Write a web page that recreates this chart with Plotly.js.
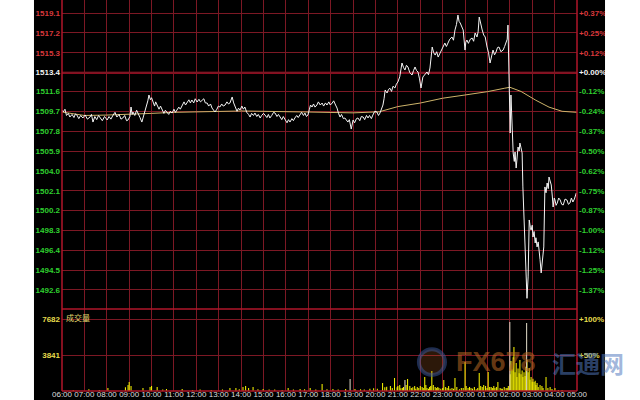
<!DOCTYPE html>
<html>
<head>
<meta charset="utf-8">
<script src="https://cdn.plot.ly/plotly-3.0.1.min.js"></script>
<style>html,body{margin:0;padding:0;background:#fff;}#chart{width:640px;height:400px;}</style>
</head>
<body>
<div id="chart"></div>
<script>
// ---------- data ----------
const prevClose = 1513.4;

const priceTicks = [1519.1, 1517.2, 1515.3, 1513.4, 1511.6, 1509.7, 1507.8, 1505.9, 1504.0, 1502.1, 1500.2, 1498.3, 1496.4, 1494.5, 1492.6];
const pctLabels = ['+0.37%', '+0.25%', '+0.12%', '+0.00%', '-0.12%', '-0.24%', '-0.37%', '-0.50%', '-0.62%', '-0.75%', '-0.87%', '-1.00%', '-1.12%', '-1.25%', '-1.37%'];

const volTicks = [3841, 7682];
const volTickLabels = ['3841', '7682'];
const volPctLabels = ['+50%', '+100%'];

// minute price (time, price)
const priceSeries = [
['06:00',1509.82],['06:03',1509.63],['06:08',1509.9],['06:12',1509.3],['06:17',1509.5],['06:21',1509.15],['06:27',1509.4],['06:32',1509.1],['06:36',1509.45],['06:40',1509.34],['06:45',1509.0],['06:50',1509.3],['06:56',1509.06],['07:02',1509.35],['07:08',1508.95],['07:15',1509.15],['07:19',1509.4],['07:23',1508.67],['07:28',1509.2],['07:33',1508.9],['07:38',1509.3],['07:42',1509.06],['07:48',1508.8],['07:54',1509.2],['08:01',1508.87],['08:06',1509.2],['08:11',1508.95],['08:17',1509.34],['08:22',1509.6],['08:27',1509.15],['08:33',1509.4],['08:38',1508.95],['08:43',1509.06],['08:48',1509.3],['08:53',1508.8],['08:57',1508.87],['09:02',1509.2],['09:05',1510.11],['09:08',1509.4],['09:10',1509.63],['09:15',1509.3],['09:20',1509.8],['09:24',1509.53],['09:29',1509.1],['09:34',1508.67],['09:38',1509.2],['09:42',1509.53],['09:47',1510.2],['09:50',1510.7],['09:53',1511.26],['09:57',1510.8],['10:00',1511.0],['10:04',1510.59],['10:08',1510.2],['10:11',1510.6],['10:15',1510.30],['10:20',1509.9],['10:24',1510.2],['10:28',1509.82],['10:33',1509.5],['10:37',1509.8],['10:41',1509.63],['10:46',1509.4],['10:50',1509.7],['10:55',1509.53],['11:00',1509.9],['11:04',1509.6],['11:08',1509.82],['11:13',1510.1],['11:17',1509.9],['11:22',1510.30],['11:27',1510.6],['11:31',1510.3],['11:35',1510.49],['11:40',1510.8],['11:44',1510.5],['11:48',1510.78],['11:53',1510.5],['11:57',1510.9],['12:02',1510.59],['12:07',1510.85],['12:11',1510.6],['12:15',1510.78],['12:20',1510.9],['12:24',1510.5],['12:29',1510.49],['12:33',1510.2],['12:38',1510.4],['12:42',1510.01],['12:46',1509.8],['12:50',1509.63],['12:55',1509.9],['12:59',1510.2],['13:03',1510.11],['13:08',1510.4],['13:12',1510.2],['13:17',1510.30],['13:22',1510.6],['13:26',1510.4],['13:30',1510.49],['13:36',1511.07],['13:40',1510.5],['13:44',1510.11],['13:49',1509.7],['13:53',1510.0],['13:57',1509.82],['14:02',1510.2],['14:06',1509.9],['14:10',1510.11],['14:15',1509.6],['14:20',1509.4],['14:24',1509.15],['14:28',1509.5],['14:33',1509.3],['14:37',1509.53],['14:42',1509.2],['14:46',1509.4],['14:51',1509.06],['14:55',1509.3],['15:00',1509.5],['15:04',1509.34],['15:09',1509.1],['15:13',1509.4],['15:17',1509.06],['15:22',1509.3],['15:27',1509.6],['15:31',1509.53],['15:36',1509.2],['15:40',1509.4],['15:44',1509.15],['15:49',1508.9],['15:53',1509.2],['15:58',1508.87],['16:03',1508.6],['16:07',1508.9],['16:11',1508.67],['16:16',1509.0],['16:20',1508.8],['16:24',1509.06],['16:29',1509.3],['16:33',1509.1],['16:38',1509.34],['16:42',1509.6],['16:47',1509.3],['16:51',1509.53],['16:55',1509.2],['16:59',1509.34],['17:03',1509.9],['17:06',1510.3],['17:10',1510.11],['17:14',1510.4],['17:18',1510.1],['17:23',1510.30],['17:27',1510.6],['17:32',1510.3],['17:37',1510.49],['17:41',1510.2],['17:46',1510.5],['17:50',1510.30],['17:55',1510.6],['17:59',1510.3],['18:04',1510.49],['18:08',1510.7],['18:13',1510.3],['18:17',1510.01],['18:21',1509.5],['18:25',1509.15],['18:29',1509.4],['18:34',1509.0],['18:38',1509.06],['18:42',1508.8],['18:46',1508.67],['18:50',1508.9],['18:55',1508.00],['19:00',1508.87],['19:04',1508.6],['19:09',1509.0],['19:13',1509.06],['19:18',1508.8],['19:22',1509.2],['19:27',1509.15],['19:31',1508.9],['19:36',1509.3],['19:40',1509.06],['19:44',1509.3],['19:49',1509.0],['19:53',1509.34],['19:58',1509.7],['20:04',1509.63],['20:08',1509.3],['20:12',1509.53],['20:16',1509.9],['20:20',1510.30],['20:23',1510.9],['20:26',1511.74],['20:31',1511.45],['20:35',1511.8],['20:39',1511.90],['20:43',1511.6],['20:47',1512.1],['20:52',1511.93],['20:56',1512.3],['21:00',1512.50],['21:05',1513.0],['21:08',1513.6],['21:11',1514.32],['21:15',1513.9],['21:19',1513.65],['21:23',1514.1],['21:27',1513.94],['21:32',1513.4],['21:38',1513.17],['21:42',1513.6],['21:46',1513.94],['21:50',1513.6],['21:54',1513.46],['21:58',1512.8],['22:02',1511.93],['22:07',1512.98],['22:12',1513.2],['22:18',1513.46],['22:22',1513.2],['22:26',1513.84],['22:32',1515.85],['22:36',1515.3],['22:40',1515.08],['22:44',1515.4],['22:48',1514.89],['22:53',1515.3],['22:58',1515.56],['23:02',1515.9],['23:06',1516.23],['23:10',1515.9],['23:14',1516.23],['23:19',1516.6],['23:25',1516.81],['23:29',1516.5],['23:33',1517.48],['23:37',1518.0],['23:41',1518.91],['23:44',1518.3],['23:47',1518.15],['23:51',1517.8],['23:55',1517.48],['00:00',1515.56],['00:02',1516.3],['00:05',1516.52],['00:09',1516.2],['00:14',1516.6],['00:19',1516.71],['00:23',1516.4],['00:27',1517.19],['00:32',1516.81],['00:35',1517.3],['00:38',1518.72],['00:42',1517.9],['00:46',1517.48],['00:50',1517.0],['00:54',1516.81],['00:59',1515.85],['01:03',1515.3],['01:07',1514.32],['01:11',1515.1],['01:15',1515.56],['01:19',1515.1],['01:23',1515.37],['01:27',1515.8],['01:31',1515.85],['01:36',1515.4],['01:42',1515.56],['01:46',1515.9],['01:50',1516.33],['01:53',1516.6],['01:55',1517.95],['02:01',1507.62],['02:03',1511.26],['02:06',1507.80],['02:09',1505.71],['02:12',1504.9],['02:14',1505.8],['02:17',1504.27],['02:20',1505.6],['02:22',1506.28],['02:25',1505.9],['02:27',1506.66],['02:30',1506.2],['02:33',1505.71],['02:35',1502.46],['02:38',1499.59],['02:44',1494.23],['02:46',1491.80],['02:49',1493.85],['02:52',1499.30],['02:55',1498.6],['02:57',1498.34],['03:00',1498.8],['03:02',1497.67],['03:05',1498.2],['03:08',1497.10],['03:10',1497.6],['03:13',1496.72],['03:16',1497.2],['03:18',1496.14],['03:21',1495.5],['03:24',1494.23],['03:27',1495.4],['03:29',1496.14],['03:31',1496.72],['03:34',1502.46],['03:37',1501.9],['03:40',1502.84],['03:43',1502.3],['03:45',1503.41],['03:48',1503.0],['03:51',1502.65],['03:54',1501.5],['03:56',1500.54],['03:59',1501.4],['04:01',1501.21],['04:04',1500.7],['04:07',1500.92],['04:11',1501.4],['04:15',1501.21],['04:19',1500.8],['04:23',1500.73],['04:28',1501.3],['04:33',1501.21],['04:37',1500.8],['04:41',1500.92],['04:45',1501.4],['04:49',1501.02],['04:53',1501.3],['04:58',1501.88]
];

const avgTimes = ['06:00','07:00','08:00','09:00','10:00','11:00','12:00','14:00','17:00','19:00','20:10','21:00','22:00','23:00','00:00','01:00','01:45','02:00','02:30','03:10','03:45','04:20','05:00'];
const avgPrices = [1509.63,1509.30,1509.34,1509.40,1509.50,1509.60,1509.63,1509.73,1509.63,1509.55,1509.65,1510.15,1510.49,1510.95,1511.26,1511.58,1511.90,1512.00,1511.60,1510.75,1510.10,1509.70,1509.60];

const volTimes = ['06:30','07:12','07:40','08:03','08:50','08:57','09:00','09:05','09:37','09:56','10:00','10:15','10:30','10:40','11:22','11:50','12:10','12:40','13:10','13:30','13:46','13:55','14:05','14:12','14:20','14:32','14:45','14:59','15:15','15:30','15:50','16:06','16:20','16:38','16:50','17:05','17:20','17:37','17:50','18:06','18:20','18:40','19:05','19:20','19:30','19:45','19:55','20:05','20:19','20:25','20:30','20:40','20:45','20:51','20:58','21:00','21:05','21:08','21:12','21:15','21:22','21:26','21:32','21:36','21:40','21:45','21:48','21:52','21:56','22:00','22:05','22:08','22:12','22:15','22:18','22:22','22:25','22:28','22:31','22:35','22:40','22:44','22:47','22:50','22:55','23:00','23:03','23:08','23:12','23:16','23:20','23:25','23:29','23:33','23:38','23:45','23:50','23:55','00:00','00:03','00:08','00:12','00:16','00:20','00:25','00:30','00:34','00:38','00:42','00:46','00:50','00:55','00:59','01:02','01:06','01:10','01:14','01:17','01:20','01:24','01:28','01:34','01:37','01:40','01:45','01:50','01:53','01:56','02:01','02:03','02:06','02:09','02:11','02:14','02:17','02:19','02:22','02:25','02:27','02:30','02:33','02:35','02:38','02:41','02:43','02:46','02:49','02:52','02:54','02:57','03:00','03:02','03:05','03:08','03:10','03:13','03:16','03:21','03:26','03:29','03:37','03:42','03:48','03:53','04:01','04:10','04:20'];
const volumes = [100,200,100,320,400,640,960,530,320,430,530,430,150,210,210,100,150,100,150,320,320,200,430,530,320,430,200,210,150,150,100,320,150,210,200,320,150,750,200,210,150,210,210,200,150,250,300,250,850,400,450,530,320,1390,400,530,640,300,320,430,640,1280,530,320,400,530,250,430,320,530,430,320,1490,640,320,250,430,530,2130,640,430,320,430,320,250,320,1170,430,320,530,250,320,250,1390,430,200,320,320,3090,530,320,430,320,250,430,200,320,1920,530,430,640,530,320,2030,430,430,320,530,320,430,960,320,250,250,430,320,320,530,1800,3200,2300,3600,4690,2000,3000,1500,2400,1900,3300,1800,2200,1500,2000,1600,2600,3300,2000,2450,1200,1500,1000,1300,960,1100,640,850,430,640,530,320,1490,320,430,210,320,110,110];

// light-coloured (grey/white) volume bars
const volGreyTimes = ['18:52','21:19','02:00','02:45'];
const volGrey = [1280,1170,7360,7260];

const volumeLabel = '成交量';

// ---------- helpers ----------
const D1 = '2019-08-01 ', D2 = '2019-08-02 ';
const toDate = t => (parseInt(t.slice(0,2),10) >= 6 ? D1 : D2) + t;

const RED = '#d8383c', GREEN = '#2fcf2f', WHITE = '#f2f2f2', YEL = '#e6dc4c';
const GRID = '#7c1824', BORDER = '#b0162a';

const leftText = priceTicks.map(v => {
  const c = v > prevClose + 0.01 ? RED : (v < prevClose - 0.01 ? GREEN : WHITE);
  return `<span style="color:${c}">${v.toFixed(1)}</span>`;
});
const rightText = pctLabels.map((s, i) => {
  const v = priceTicks[i];
  const c = v > prevClose + 0.01 ? RED : (v < prevClose - 0.01 ? GREEN : WHITE);
  return `<span style="color:${c}">${s}</span>`;
});

const pRange = [1490.78, 1520.35];
const vRange = [0, 8749];
const xRange = [D1 + '06:00', D2 + '05:00'];
const SPLIT = 0.2097;

const traces = [
  { x: avgTimes.map(toDate), y: avgPrices, xaxis: 'x2', yaxis: 'y', type: 'scatter', mode: 'lines',
    line: { color: '#cdb46a', width: 1 }, hoverinfo: 'skip' },
  { x: priceSeries.map(p => toDate(p[0])), y: priceSeries.map(p => p[1]), xaxis: 'x2', yaxis: 'y', type: 'scatter', mode: 'lines',
    line: { color: '#f4f4f4', width: 1 }, hoverinfo: 'skip' },
  { x: [], y: [], xaxis: 'x2', yaxis: 'y3', type: 'scatter', mode: 'lines', hoverinfo: 'skip' },
  { x: volTimes.map(toDate), y: volumes, xaxis: 'x', yaxis: 'y2', type: 'bar', width: 170000,
    marker: { color: '#f4f000', line: { width: 0 } }, hoverinfo: 'skip' },
  { x: volGreyTimes.map(toDate), y: volGrey, xaxis: 'x', yaxis: 'y2', type: 'bar', width: 170000,
    marker: { color: '#d8d2c0', line: { width: 0 } }, hoverinfo: 'skip' },
  { x: [], y: [], xaxis: 'x', yaxis: 'y4', type: 'scatter', mode: 'lines', hoverinfo: 'skip' }
];

const tickFont = { family: 'Liberation Sans, Arial, sans-serif', size: 8, weight: 700 };

const layout = {
  width: 640, height: 400,
  paper_bgcolor: '#000', plot_bgcolor: '#000',
  margin: { l: 62, r: 63, t: 0, b: 9, pad: 0 },
  showlegend: false,
  barmode: 'overlay',
  xaxis: { type: 'date', range: xRange, anchor: 'y2', domain: [0, 1],
    showgrid: true, gridcolor: GRID, gridwidth: 1, dtick: 3600000, tick0: D1 + '06:00',
    tickformat: '%H:%M', ticks: '', zeroline: false, showline: false, tickangle: 0,
    tickfont: { family: 'Liberation Sans, Arial, sans-serif', size: 8, color: '#dcdcdc' }, ticklabelstandoff: -3 },
  xaxis2: { type: 'date', range: xRange, matches: 'x', anchor: 'y', domain: [0, 1],
    showgrid: true, gridcolor: GRID, gridwidth: 1, dtick: 3600000, tick0: D1 + '06:00',
    showticklabels: false, ticks: '', zeroline: false, showline: false },
  yaxis: { domain: [SPLIT, 1], range: pRange, anchor: 'x2', tickmode: 'array',
    tickvals: priceTicks, ticktext: leftText, showgrid: true, gridcolor: GRID, gridwidth: 1,
    zeroline: false, showline: false, ticks: '', tickfont: tickFont, ticklabelstandoff: 1 },
  yaxis3: { overlaying: 'y', side: 'right', range: pRange, anchor: 'x2', tickmode: 'array',
    tickvals: priceTicks, ticktext: rightText, showgrid: false, zeroline: false, showline: false,
    ticks: '', tickfont: tickFont, ticklabelstandoff: 1 },
  yaxis2: { domain: [0, SPLIT], range: vRange, anchor: 'x', tickmode: 'array',
    tickvals: volTicks, ticktext: volTickLabels, showgrid: true, gridcolor: GRID, gridwidth: 1,
    zeroline: false, showline: false, ticks: '', tickfont: Object.assign({}, tickFont, { color: YEL }), ticklabelstandoff: 1 },
  yaxis4: { overlaying: 'y2', side: 'right', range: vRange, anchor: 'x', tickmode: 'array',
    tickvals: volTicks, ticktext: volPctLabels, showgrid: false, zeroline: false, showline: false,
    ticks: '', tickfont: Object.assign({}, tickFont, { color: YEL }), ticklabelstandoff: 1 },
  shapes: [
    { type: 'line', xref: 'paper', yref: 'y', x0: 0, x1: 1, y0: prevClose, y1: prevClose,
      line: { color: '#b8102a', width: 2 }, layer: 'below' },
    { type: 'line', xref: 'paper', yref: 'paper', x0: 0, x1: 0, y0: 0, y1: 1, line: { color: BORDER, width: 1.5 } },
    { type: 'line', xref: 'paper', yref: 'paper', x0: 1, x1: 1, y0: 0, y1: 1, line: { color: BORDER, width: 1.5 } },
    { type: 'line', xref: 'paper', yref: 'paper', x0: 0, x1: 1, y0: SPLIT, y1: SPLIT, line: { color: BORDER, width: 1.5 } },
    { type: 'line', xref: 'paper', yref: 'paper', x0: 0, x1: 1, y0: 0, y1: 0, line: { color: BORDER, width: 1.5 } },
    { type: 'rect', xref: 'paper', yref: 'paper', x0: -0.13, x1: -0.0544, y0: -0.1, y1: 1.1,
      fillcolor: '#fff', line: { width: 0 }, layer: 'above' },
    { type: 'rect', xref: 'paper', yref: 'paper', x0: 1.0544, x1: 1.13, y0: -0.1, y1: 1.1,
      fillcolor: '#fff', line: { width: 0 }, layer: 'above' },
    { type: 'circle', xref: 'paper', yref: 'paper', x0: 0.693, x1: 0.7437, y0: 0.041, y1: 0.107,
      line: { color: 'rgba(60,90,160,0.5)', width: 4 }, fillcolor: 'rgba(200,110,40,0.22)', layer: 'above' }
  ],
  annotations: [
    { text: volumeLabel, xref: 'paper', yref: 'paper', x: 0.003, y: 0.207, xanchor: 'left', yanchor: 'top',
      showarrow: false, font: { family: 'Noto Sans CJK SC', size: 8, color: '#e2d870' } },
    { text: 'FX678', xref: 'paper', yref: 'paper', x: 0.843, y: 0.074, xanchor: 'center', yanchor: 'middle',
      showarrow: false, font: { family: 'Liberation Sans', size: 27, weight: 700, color: 'rgba(190,105,35,0.55)' } },
    { text: '汇通网', xref: 'paper', yref: 'paper', x: 1.022, y: 0.074, xanchor: 'center', yanchor: 'middle',
      showarrow: false, font: { family: 'Noto Sans CJK SC', size: 24, weight: 700, color: 'rgba(80,120,190,0.55)' } }
  ]
};

Plotly.newPlot('chart', traces, layout, { staticPlot: true, displayModeBar: false });
</script>
</body>
</html>
